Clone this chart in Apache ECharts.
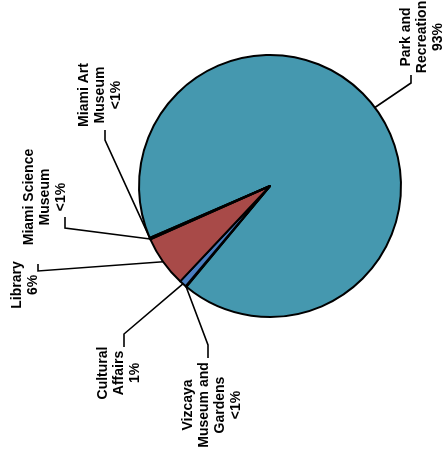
<!DOCTYPE html>
<html>
<head>
<meta charset="utf-8">
<script src="https://cdn.jsdelivr.net/npm/echarts@6/dist/echarts.min.js"></script>
<style>
  html, body { margin: 0; padding: 0; background: #fff; }
</style>
</head>
<body>
<div id="pie" style="width: 446px; height: 457px;"></div>
<script>
// slices, in clockwise order starting after Miami Art Museum
var categories = ['Park and Recreation', 'Vizcaya Museum and Gardens', 'Cultural Affairs', 'Library', 'Miami Science Museum', 'Miami Art Museum']
var labelNames = ['Park and\nRecreation', 'Vizcaya\nMuseum and\nGardens', 'Cultural\nAffairs', 'Library', 'Miami Science\nMuseum', 'Miami Art\nMuseum']
var values = [92.5, 0.1, 0.9, 6.3, 0.1, 0.1]
var pctLabels = ['93%', '<1%', '1%', '6%', '<1%', '<1%']
var colors = ['#4598AF', '#4A7EC0', '#4A7EC0', '#A84A48', '#A84A48', '#A84A48']

// layout only: label centres and leader line elbows
var cx = 270, cy = 186, R = 131, startAngle = 203.3
var labelSpots = [
    { x: 422, y: 37, elbow: [411, 83], end: [411, 75] },
    { x: 212, y: 405, elbow: [208, 345], end: [208, 358] },
    { x: 119, y: 373, elbow: [124, 334], end: [124, 347] },
    { x: 25, y: 285, elbow: [38, 271], end: [38, 264] },
    { x: 45, y: 197, elbow: [65, 228], end: [65, 217] },
    { x: 100, y: 95, elbow: [105, 140], end: [105, 130] }
]

var total = values.reduce(function (a, b) { return a + b }, 0)

// point on the outer edge at the middle of a slice
function edgePoint(idx) {
    var before = 0
    for (var i = 0; i < idx; i++) before += values[i]
    var mid = startAngle - (before + values[idx] / 2) / total * 360
    var rad = mid * Math.PI / 180
    return [cx + R * Math.cos(rad), cy - R * Math.sin(rad)]
}

var data = categories.map(function (c, i) {
    return { name: c, value: values[i], itemStyle: { color: colors[i] } }
})

var option = {
    animation: false,
    series: [
        {
            type: 'pie',
            center: [cx, cy],
            radius: R,
            startAngle: startAngle,
            clockwise: true,
            minAngle: 0,
            avoidLabelOverlap: false,
            itemStyle: {
                borderColor: '#000',
                borderWidth: 2
            },
            label: {
                show: true,
                position: 'outside',
                rotate: 90,
                color: '#000',
                fontFamily: 'Liberation Sans, Arial, sans-serif',
                fontWeight: 'bold',
                fontSize: 14,
                lineHeight: 16,
                align: 'center',
                formatter: function (p) {
                    return labelNames[p.dataIndex] + '\n' + pctLabels[p.dataIndex]
                }
            },
            labelLine: {
                show: true,
                smooth: false,
                lineStyle: { color: '#000', width: 1.6 }
            },
            labelLayout: function (p) {
                var s = labelSpots[p.dataIndex]
                return {
                    x: s.x,
                    y: s.y,
                    rotate: 90,
                    align: 'center',
                    verticalAlign: 'middle',
                    labelLinePoints: [edgePoint(p.dataIndex), s.elbow, s.end]
                }
            },
            emphasis: { disabled: true },
            data: data
        }
    ]
}
echarts.init(document.getElementById('pie')).setOption(option)
</script>
</body>
</html>
